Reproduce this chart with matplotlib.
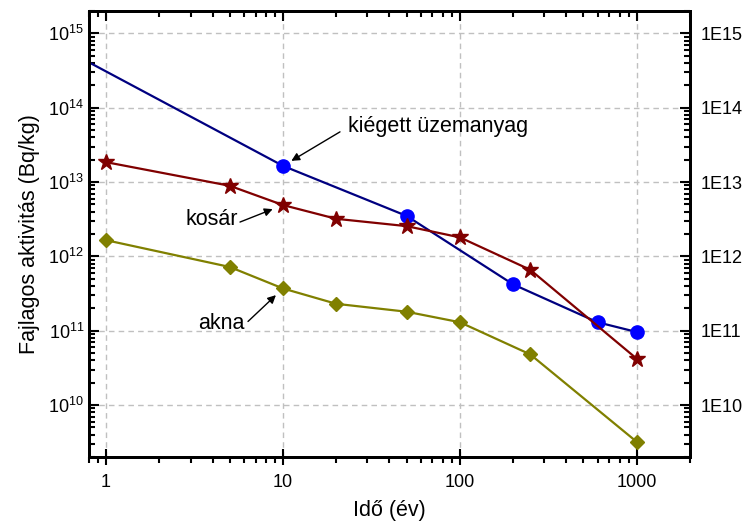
import math
import matplotlib
matplotlib.use("Agg")
import matplotlib.pyplot as plt
from matplotlib.ticker import LogLocator, FuncFormatter, NullFormatter

plt.rcParams['font.family'] = ['Liberation Sans', 'DejaVu Sans']
plt.rcParams['mathtext.fontset'] = 'custom'
plt.rcParams['mathtext.rm'] = 'Liberation Sans'
plt.rcParams['mathtext.it'] = 'Liberation Sans'

# Data
spent_x = [0.5, 10, 50, 200, 600, 1000]
spent_y = [7.4e14, 1.65e13, 3.5e12, 4.2e11, 1.3e11, 9.6e10]
basket_x = [1, 5, 10, 20, 50, 100, 250, 1000]
basket_y = [1.85e13, 8.9e12, 4.9e12, 3.2e12, 2.55e12, 1.8e12, 6.6e11, 4.2e10]
shaft_x = [1, 5, 10, 20, 50, 100, 250, 1000]
shaft_y = [1.65e12, 7.2e11, 3.7e11, 2.3e11, 1.8e11, 1.3e11, 4.8e10, 3.2e9]
labels = ["kiégett üzemanyag", "kosár", "akna"]
xlabel = "Idő (év)"
ylabel = "Fajlagos aktivitás (Bq/kg)"

fig = plt.figure(figsize=(7.44, 5.22), dpi=100)
ax = fig.add_axes([0.1196, 0.1245, 0.8078, 0.8545])
ax.set_xscale('log')
ax.set_yscale('log')
ax.set_xlim(0.8, 2000)
ax.set_ylim(2e9, 2e15)

ax.plot(spent_x, spent_y, color='#000080', lw=1.6, marker='o', ms=9.5,
        mfc='#0000ff', mec='#0000ff', markevery=slice(1, None), zorder=3)
ax.plot(basket_x, basket_y, color='#800000', lw=1.6, marker='*', ms=12,
        mfc='#800000', mec='#800000', zorder=3)
ax.plot(shaft_x, shaft_y, color='#808000', lw=1.6, marker='D', ms=7.5,
        mfc='#808000', mec='#808000', zorder=3)

ax.grid(True, which='major', ls=(0, (4, 3)), color='#c0c0c0', lw=1)
ax.set_axisbelow(True)

ax.yaxis.set_major_locator(LogLocator(base=10, numticks=20))
ax.yaxis.set_minor_locator(LogLocator(base=10, subs=range(2, 10), numticks=20))
ax.yaxis.set_minor_formatter(NullFormatter())
ax.yaxis.set_major_formatter(FuncFormatter(lambda v, p: r'$\mathregular{10^{%d}}$' % round(math.log10(v))))
ax.xaxis.set_major_formatter(FuncFormatter(lambda v, p: '%g' % v))
ax.xaxis.set_minor_formatter(NullFormatter())

ax.tick_params(axis='y', which='both', direction='in', width=1.5, labelsize=13)
ax.tick_params(axis='y', which='major', length=7)
ax.tick_params(axis='y', which='minor', length=4)
ax.tick_params(axis='x', which='both', top=False, width=1.5, labelsize=13)
ax.tick_params(axis='x', which='major', direction='inout', length=12, pad=6)
ax.tick_params(axis='x', which='minor', direction='out', length=4)
for s in ax.spines.values():
    s.set_linewidth(2)

top = ax.twiny()
top.set_xscale('log')
top.set_xlim(ax.get_xlim())
top.xaxis.set_major_locator(LogLocator(base=10, numticks=20))
top.xaxis.set_minor_locator(LogLocator(base=10, subs=range(2, 10), numticks=20))
top.xaxis.set_major_formatter(NullFormatter())
top.xaxis.set_minor_formatter(NullFormatter())
top.tick_params(which='both', direction='in', width=1.5)
top.tick_params(which='major', length=7)
top.tick_params(which='minor', length=4)
top.yaxis.set_visible(False)
for s in top.spines.values():
    s.set_linewidth(2)

ax2 = ax.twinx()
ax2.set_yscale('log')
ax2.set_ylim(ax.get_ylim())
ax2.yaxis.set_major_locator(LogLocator(base=10, numticks=20))
ax2.yaxis.set_minor_locator(LogLocator(base=10, subs=range(2, 10), numticks=20))
ax2.yaxis.set_minor_formatter(NullFormatter())
ax2.yaxis.set_major_formatter(FuncFormatter(lambda v, p: '1E%d' % round(math.log10(v))))
ax2.tick_params(which='both', direction='in', width=1.5, labelsize=13, pad=8)
ax2.tick_params(which='major', length=7)
ax2.tick_params(which='minor', length=4)
ax2.xaxis.set_visible(False)
for s in ax2.spines.values():
    s.set_linewidth(2)

ax.set_xlabel(xlabel, fontsize=15.5, labelpad=7)
ax.set_ylabel(ylabel, fontsize=15.5, labelpad=6)

arrow = dict(arrowstyle='-|>', color='black', lw=1, mutation_scale=12)
# kiégett üzemanyag
ax.annotate('', xy=(10, 1.65e13), xytext=(57, 34), textcoords='offset pixels',
            arrowprops=dict(arrow, shrinkA=0, shrinkB=7))
ax.annotate(labels[0], xy=(10, 1.65e13), xytext=(65, 39), textcoords='offset pixels',
            fontsize=15.5, va='center', ha='left')
# kosár
ax.annotate('', xy=(10, 4.9e12), xytext=(-43, -17), textcoords='offset pixels',
            arrowprops=dict(arrow, shrinkA=0, shrinkB=8))
ax.annotate(labels[1], xy=(10, 4.9e12), xytext=(-45, -14), textcoords='offset pixels',
            fontsize=15.5, va='center', ha='right')
# akna
ax.annotate('', xy=(10, 3.7e11), xytext=(-35, -33), textcoords='offset pixels',
            arrowprops=dict(arrow, shrinkA=0, shrinkB=7))
ax.annotate(labels[2], xy=(10, 3.7e11), xytext=(-38, -35), textcoords='offset pixels',
            fontsize=15.5, va='center', ha='right')

fig.savefig('out.png', dpi=100)
